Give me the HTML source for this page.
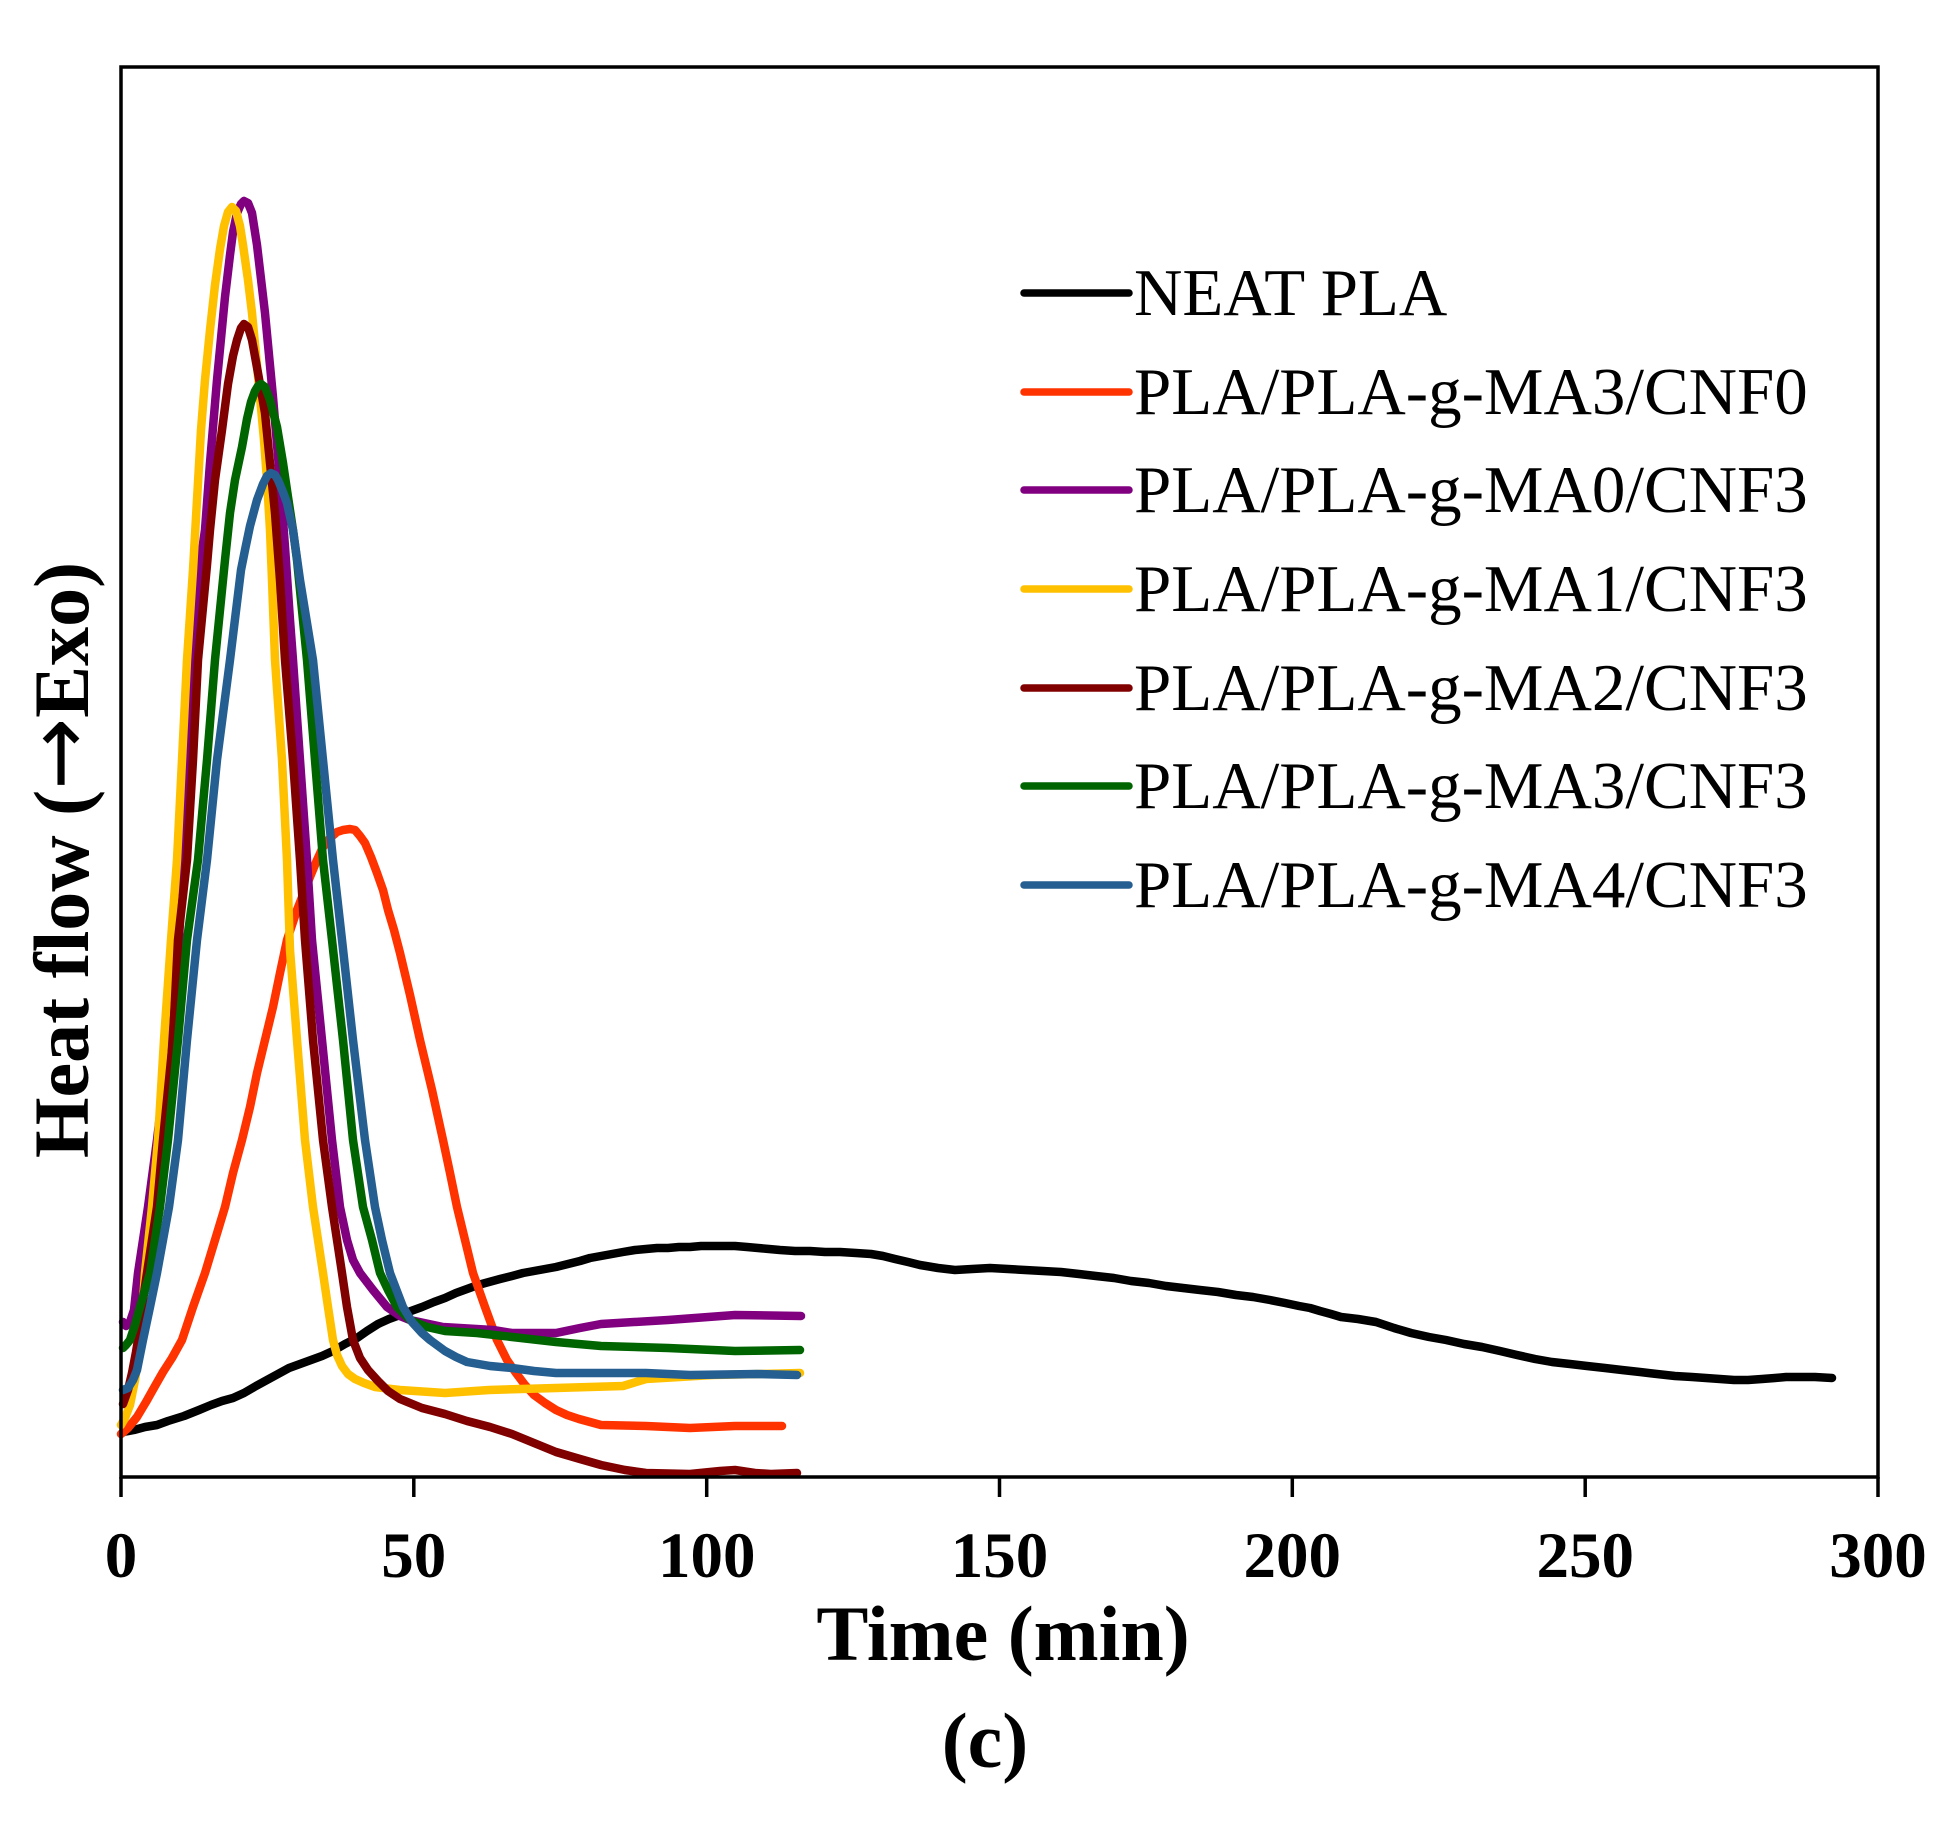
<!DOCTYPE html>
<html>
<head>
<meta charset="utf-8">
<style>
  html, body { margin: 0; padding: 0; background: #ffffff; }
  body { width: 1956px; height: 1824px; overflow: hidden; }
  svg { display: block; }
  .tick { font-family: "Liberation Serif", "DejaVu Serif", serif; font-weight: bold; font-size: 65px; }
  .axt { font-family: "Liberation Serif", "DejaVu Serif", serif; font-weight: bold; font-size: 78px; }
  .leg { font-family: "Liberation Serif", "DejaVu Serif", serif; font-size: 67px; }
  .s { fill: none; stroke-linejoin: round; stroke-linecap: round; stroke-width: 8.5; }
</style>
</head>
<body>
<svg width="1956" height="1824" viewBox="0 0 1956 1824" xmlns="http://www.w3.org/2000/svg">
  <rect x="0" y="0" width="1956" height="1824" fill="#ffffff"/>

  <!-- NEAT PLA -->
  <polyline class="s" stroke="#000000" stroke-width="8" points="123,1432 134,1430 145,1427 157,1425 168,1421 184,1416 199,1410 211,1405 222,1401 233,1398 244,1393 256,1386 267,1380 278,1374 289,1368 300,1364 311,1360 322,1356 333,1351 345,1344 357,1338 367,1331 378,1324 389,1319 400,1315 411,1311 422,1307 434,1302 445,1298 456,1293 467,1289 478,1285 489,1282 500,1279 512,1276 523,1273 534,1271 545,1269 556,1267 568,1264 580,1261 590,1258 601,1256 612,1254 623,1252 635,1250 646,1249 657,1248 668,1248 679,1247 690,1247 701,1246 712,1246 724,1246 735,1246 747,1247 758,1248 769,1249 780,1250 795,1251 810,1251 825,1252 840,1252 856,1253 871,1254 883,1256 895,1259 908,1262 920,1265 938,1268 955,1270 972,1269 990,1268 1008,1269 1025,1270 1043,1271 1061,1272 1079,1274 1096,1276 1114,1278 1131,1281 1149,1283 1166,1286 1183,1288 1200,1290 1218,1292 1236,1295 1253,1297 1270,1300 1285,1303 1299,1306 1310,1308 1320,1311 1331,1314 1341,1317 1358,1319 1376,1322 1394,1328 1411,1333 1429,1337 1446,1340 1464,1344 1482,1347 1500,1351 1517,1355 1535,1359 1552,1362 1570,1364 1587,1366 1605,1368 1622,1370 1640,1372 1657,1374 1675,1376 1692,1377 1706,1378 1720,1379 1734,1380 1748,1380 1762,1379 1775,1378 1786,1377 1797,1377 1815,1377 1832,1378"/>
  <!-- PLA/PLA-g-MA3/CNF0 -->
  <polyline class="s" stroke="#FF3300" points="121,1434 128,1428 137,1417 146,1402 155,1386 163,1372 172,1358 182,1340 193,1307 205,1273 215,1240 225,1207 233,1173 242,1140 250,1107 257,1073 265,1040 273,1007 280,973 287,940 297,910 310,877 317,860 323,847 330,838 337,832 343,830 350,829 355,830 360,836 365,843 371,857 377,873 383,890 388,910 394,930 400,953 410,995 420,1040 432,1090 443,1140 450,1173 457,1207 465,1240 473,1273 485,1307 497,1340 507,1360 516,1373 525,1385 534,1395 545,1403 556,1410 567,1415 579,1419 590,1422 601,1425 646,1426 690,1428 735,1426 782,1426"/>
  <!-- PLA/PLA-g-MA0/CNF3 -->
  <polyline class="s" stroke="#800080" points="123,1322 126,1326 130,1322 134,1310 138,1273 143,1240 148,1207 157,1140 163,1090 169,1040 178,960 183,860 188,760 193,660 200,565 205,530 210,463 217,380 225,297 230,255 233,232 237,213 241,204 244,201 248,203 252,213 257,245 265,313 273,397 280,480 285,547 290,620 293,660 300,760 307,860 312,940 322,1040 332,1140 340,1207 347,1240 353,1260 360,1273 373,1290 387,1307 400,1316 410,1320 443,1327 493,1330 512,1333 556,1333 580,1328 601,1324 668,1320 735,1315 801,1316"/>
  <!-- PLA/PLA-g-MA1/CNF3 -->
  <polyline class="s" stroke="#FFC000" points="121,1425 125,1418 130,1405 135,1380 140,1345 145,1273 152,1207 158,1140 164,1040 171,940 177,860 182,760 187,660 193,570 201,430 205,380 210,330 215,285 220,249 224,226 228,212 232,207 236,211 240,226 243,245 248,280 252,313 256,355 260,397 264,440 267,480 270,530 272,580 275,660 282,760 287,860 290,950 297,1040 305,1140 313,1207 318,1240 323,1273 328,1307 333,1340 337,1355 342,1366 348,1374 355,1379 364,1383 375,1387 400,1390 445,1393 489,1390 556,1388 623,1386 646,1379 713,1375 760,1374 800,1373"/>
  <!-- PLA/PLA-g-MA2/CNF3 -->
  <polyline class="s" stroke="#800000" points="123,1404 128,1390 132,1373 136,1352 138,1340 142,1307 147,1273 157,1207 163,1140 173,1040 178,940 187,860 193,760 198,660 207,565 210,530 215,480 222,430 228,384 233,356 237,340 241,328 244,324 248,327 252,340 258,373 265,413 270,463 275,513 280,580 285,660 293,760 300,860 305,940 313,1040 323,1140 332,1207 337,1240 342,1273 347,1307 353,1340 360,1358 368,1370 378,1381 388,1391 400,1399 422,1408 445,1414 467,1421 490,1427 512,1434 534,1443 556,1452 580,1459 601,1465 625,1470 646,1473 690,1474 720,1471 735,1470 755,1473 771,1474 797,1473"/>
  <!-- PLA/PLA-g-MA3/CNF3 -->
  <polyline class="s" stroke="#006400" points="123,1348 126,1345 130,1340 135,1325 140,1307 150,1273 160,1207 168,1140 178,1040 187,940 198,860 207,760 215,660 225,560 230,513 235,480 242,447 247,419 251,402 255,391 258,386 261,384 265,387 270,400 277,427 283,463 288,497 293,530 297,560 307,660 315,760 323,860 332,940 343,1040 353,1140 363,1207 372,1240 380,1273 388,1290 397,1307 410,1320 427,1327 445,1331 477,1333 512,1337 556,1342 601,1346 668,1348 735,1351 800,1350"/>
  <!-- PLA/PLA-g-MA4/CNF3 -->
  <polyline class="s" stroke="#255E91" points="123,1390 128,1388 133,1380 137,1370 143,1340 150,1307 157,1273 169,1207 178,1140 187,1040 197,940 207,860 217,760 230,660 241,570 245,550 250,526 257,500 263,484 267,476 271,473 275,475 278,480 283,492 287,503 293,530 300,580 313,660 323,760 333,860 342,940 353,1040 365,1140 375,1207 382,1240 390,1273 403,1307 412,1322 422,1333 430,1340 445,1351 456,1357 467,1362 490,1366 512,1368 534,1371 556,1373 601,1373 646,1373 690,1375 757,1374 797,1375"/>

  <!-- frame -->
  <rect x="121" y="67" width="1757" height="1410" fill="none" stroke="#000000" stroke-width="3.5"/>

  <!-- x ticks -->
  <g stroke="#000000" stroke-width="3.5">
    <line x1="121" y1="1477" x2="121" y2="1497"/>
    <line x1="413.8" y1="1477" x2="413.8" y2="1497"/>
    <line x1="706.7" y1="1477" x2="706.7" y2="1497"/>
    <line x1="999.5" y1="1477" x2="999.5" y2="1497"/>
    <line x1="1292.3" y1="1477" x2="1292.3" y2="1497"/>
    <line x1="1585.2" y1="1477" x2="1585.2" y2="1497"/>
    <line x1="1878" y1="1477" x2="1878" y2="1497"/>
  </g>
  <g class="tick" text-anchor="middle" fill="#000000">
    <text x="121" y="1577">0</text>
    <text x="413.8" y="1577">50</text>
    <text x="706.7" y="1577">100</text>
    <text x="999.5" y="1577">150</text>
    <text x="1292.3" y="1577">200</text>
    <text x="1585.2" y="1577">250</text>
    <text x="1878" y="1577">300</text>
  </g>

  <!-- axis titles -->
  <text class="axt" x="1003" y="1660" text-anchor="middle" fill="#000000">Time (min)</text>
  <text class="axt" x="985" y="1767" text-anchor="middle" fill="#000000">(c)</text>
  <text class="axt" transform="translate(88,860) rotate(-90)" x="0" y="0" text-anchor="middle" fill="#000000">Heat flow (<tspan style="font-family:'DejaVu Sans',sans-serif;font-size:86px;font-weight:normal">→</tspan>Exo)</text>

  <!-- legend -->
  <g stroke-width="7.5" stroke-linecap="round">
    <line x1="1024" y1="293" x2="1129" y2="293" stroke="#000000"/>
    <line x1="1024" y1="392" x2="1129" y2="392" stroke="#FF3300"/>
    <line x1="1024" y1="490" x2="1129" y2="490" stroke="#800080"/>
    <line x1="1024" y1="589" x2="1129" y2="589" stroke="#FFC000"/>
    <line x1="1024" y1="688" x2="1129" y2="688" stroke="#800000"/>
    <line x1="1024" y1="786" x2="1129" y2="786" stroke="#006400"/>
    <line x1="1024" y1="885" x2="1129" y2="885" stroke="#255E91"/>
  </g>
  <g class="leg" fill="#000000">
    <text x="1134" y="315">NEAT PLA</text>
    <text x="1134" y="414">PLA/PLA-g-MA3/CNF0</text>
    <text x="1134" y="512">PLA/PLA-g-MA0/CNF3</text>
    <text x="1134" y="611">PLA/PLA-g-MA1/CNF3</text>
    <text x="1134" y="710">PLA/PLA-g-MA2/CNF3</text>
    <text x="1134" y="808">PLA/PLA-g-MA3/CNF3</text>
    <text x="1134" y="907">PLA/PLA-g-MA4/CNF3</text>
  </g>
</svg>
</body>
</html>
